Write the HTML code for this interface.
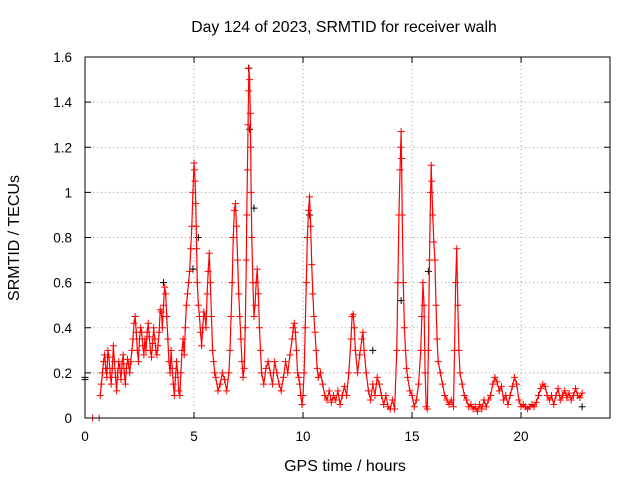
<!DOCTYPE html>
<html><head><meta charset="utf-8"><style>
body{margin:0;background:#fff;}
svg{display:block;font-family:"Liberation Sans",sans-serif;}
</style></head><body>
<svg id="chart" width="640" height="480" viewBox="0 0 640 480">
<text x="344" y="32" font-size="15.8" text-anchor="middle">Day 124 of 2023, SRMTID for receiver walh</text>
<text x="345" y="471" font-size="16" text-anchor="middle">GPS time / hours</text>
<text transform="translate(19,238) rotate(-90)" font-size="16" text-anchor="middle">SRMTID / TECUs</text>
<g id="grid"></g>
<g id="axes"></g>
<g id="black"></g>
<g id="red"></g>
<rect x="85" y="57" width="525" height="361" fill="none" stroke="#000" stroke-width="1"/>
</svg>
<script>
const xTicks=[0,5,10,15,20];
const yTicks=[0,0.2,0.4,0.6,0.8,1,1.2,1.4,1.6];
const yTickLabels=["0","0.2","0.4","0.6","0.8","1","1.2","1.4","1.6"];
const blackPoints=[[0,0.18],[0,0.17],[3.6,0.6],[4.95,0.66],[5.2,0.8],[7.5,1.55],[7.55,1.28],[7.75,0.93],[10.3,0.9],[13.2,0.3],[14.5,0.52],[15.75,0.65],[22.8,0.05]];
const redPoints=[[0.35,0],[0.65,0],[0.7,0.1],[0.75,0.15],[0.8,0.2],[0.85,0.25],[0.9,0.28],[0.95,0.22],[1.0,0.18],[1.05,0.3],[1.1,0.27],[1.15,0.2],[1.2,0.15],[1.25,0.22],[1.3,0.32],[1.35,0.25],[1.4,0.18],[1.45,0.12],[1.5,0.2],[1.55,0.25],[1.6,0.22],[1.65,0.17],[1.7,0.24],[1.75,0.28],[1.8,0.2],[1.85,0.15],[1.9,0.22],[1.95,0.26],[2.0,0.24],[2.05,0.2],[2.1,0.25],[2.15,0.3],[2.2,0.35],[2.25,0.42],[2.3,0.45],[2.35,0.38],[2.4,0.3],[2.45,0.25],[2.5,0.35],[2.55,0.4],[2.6,0.38],[2.65,0.32],[2.7,0.28],[2.75,0.35],[2.8,0.3],[2.85,0.38],[2.9,0.42],[2.95,0.36],[3.0,0.3],[3.05,0.27],[3.1,0.33],[3.15,0.4],[3.2,0.35],[3.25,0.3],[3.3,0.28],[3.35,0.32],[3.4,0.38],[3.45,0.48],[3.5,0.47],[3.55,0.4],[3.6,0.5],[3.65,0.58],[3.7,0.55],[3.75,0.45],[3.8,0.35],[3.85,0.25],[3.9,0.2],[3.95,0.3],[4.0,0.22],[4.05,0.15],[4.1,0.1],[4.15,0.18],[4.2,0.25],[4.25,0.2],[4.3,0.12],[4.35,0.1],[4.4,0.2],[4.45,0.3],[4.5,0.35],[4.55,0.28],[4.6,0.4],[4.65,0.5],[4.7,0.55],[4.75,0.6],[4.8,0.65],[4.85,0.75],[4.9,0.85],[4.95,1.0],[5.0,1.13],[5.02,1.1],[5.05,1.05],[5.08,0.95],[5.1,0.85],[5.12,0.75],[5.15,0.6],[5.2,0.5],[5.25,0.45],[5.3,0.38],[5.35,0.32],[5.4,0.4],[5.45,0.47],[5.5,0.45],[5.55,0.4],[5.6,0.55],[5.65,0.65],[5.7,0.73],[5.75,0.6],[5.8,0.45],[5.85,0.3],[5.9,0.25],[5.95,0.2],[6.0,0.18],[6.1,0.12],[6.2,0.15],[6.3,0.2],[6.4,0.17],[6.5,0.12],[6.6,0.2],[6.65,0.3],[6.7,0.45],[6.75,0.6],[6.8,0.8],[6.85,0.92],[6.9,0.95],[6.95,0.85],[7.0,0.7],[7.05,0.55],[7.1,0.45],[7.15,0.35],[7.2,0.25],[7.25,0.18],[7.3,0.22],[7.35,0.4],[7.4,0.7],[7.42,0.9],[7.45,1.1],[7.48,1.3],[7.5,1.45],[7.52,1.55],[7.55,1.5],[7.58,1.35],[7.6,1.2],[7.62,1.0],[7.65,0.8],[7.7,0.6],[7.75,0.45],[7.8,0.5],[7.85,0.6],[7.9,0.66],[7.95,0.55],[8.0,0.4],[8.05,0.3],[8.1,0.2],[8.2,0.15],[8.3,0.22],[8.4,0.25],[8.5,0.2],[8.6,0.15],[8.7,0.25],[8.8,0.2],[8.9,0.15],[9.0,0.12],[9.1,0.18],[9.2,0.25],[9.3,0.2],[9.4,0.28],[9.5,0.35],[9.55,0.4],[9.6,0.42],[9.65,0.38],[9.7,0.3],[9.75,0.2],[9.8,0.18],[9.85,0.15],[9.9,0.1],[9.95,0.06],[10.0,0.1],[10.05,0.2],[10.1,0.4],[10.15,0.6],[10.2,0.8],[10.25,0.92],[10.3,0.98],[10.35,0.85],[10.4,0.68],[10.45,0.55],[10.5,0.45],[10.55,0.38],[10.6,0.3],[10.65,0.22],[10.7,0.18],[10.8,0.2],[10.9,0.15],[11.0,0.1],[11.1,0.08],[11.2,0.12],[11.3,0.07],[11.4,0.1],[11.5,0.08],[11.6,0.12],[11.7,0.06],[11.8,0.1],[11.9,0.14],[12.0,0.1],[12.1,0.2],[12.2,0.35],[12.25,0.45],[12.3,0.46],[12.35,0.4],[12.4,0.3],[12.5,0.2],[12.6,0.28],[12.7,0.35],[12.75,0.38],[12.8,0.3],[12.9,0.2],[13.0,0.12],[13.1,0.08],[13.2,0.15],[13.3,0.1],[13.4,0.18],[13.5,0.15],[13.6,0.1],[13.7,0.06],[13.8,0.1],[13.9,0.05],[14.0,0.04],[14.1,0.08],[14.2,0.04],[14.3,0.3],[14.35,0.6],[14.4,0.9],[14.45,1.1],[14.48,1.2],[14.5,1.27],[14.52,1.15],[14.55,0.9],[14.6,0.6],[14.65,0.4],[14.7,0.3],[14.75,0.22],[14.8,0.18],[14.9,0.12],[15.0,0.1],[15.1,0.05],[15.2,0.08],[15.3,0.15],[15.4,0.3],[15.45,0.45],[15.5,0.6],[15.55,0.5],[15.6,0.2],[15.65,0.05],[15.7,0.04],[15.75,0.3],[15.8,0.7],[15.85,1.0],[15.88,1.12],[15.9,1.05],[15.95,0.9],[16.0,0.78],[16.05,0.7],[16.1,0.5],[16.15,0.35],[16.2,0.25],[16.3,0.2],[16.4,0.15],[16.5,0.1],[16.6,0.08],[16.7,0.06],[16.8,0.08],[16.9,0.05],[16.95,0.3],[17.0,0.6],[17.05,0.75],[17.1,0.5],[17.15,0.3],[17.2,0.2],[17.3,0.15],[17.4,0.1],[17.5,0.08],[17.6,0.05],[17.7,0.06],[17.8,0.04],[17.9,0.05],[18.0,0.03],[18.1,0.06],[18.2,0.04],[18.3,0.08],[18.4,0.05],[18.5,0.08],[18.6,0.1],[18.7,0.15],[18.8,0.18],[18.9,0.16],[19.0,0.12],[19.1,0.14],[19.2,0.08],[19.3,0.1],[19.4,0.06],[19.5,0.1],[19.6,0.14],[19.7,0.18],[19.8,0.15],[19.9,0.08],[20.0,0.05],[20.1,0.06],[20.2,0.05],[20.3,0.04],[20.4,0.05],[20.5,0.06],[20.6,0.05],[20.7,0.07],[20.8,0.1],[20.9,0.13],[21.0,0.15],[21.1,0.14],[21.2,0.1],[21.3,0.08],[21.4,0.1],[21.5,0.06],[21.6,0.1],[21.7,0.13],[21.8,0.08],[21.9,0.1],[22.0,0.12],[22.1,0.09],[22.2,0.11],[22.3,0.08],[22.4,0.1],[22.5,0.13],[22.6,0.1],[22.7,0.09],[22.8,0.11]];

const NS="http://www.w3.org/2000/svg";
const X0=85,X1=610,Y0=418,Y1=57,XMAX=24.08,YMAX=1.6;
function xs(t){return X0+(X1-X0)*t/XMAX;}
function ys(v){return Y0-(Y0-Y1)*v/YMAX;}
function mk(tag,attrs,parent){const e=document.createElementNS(NS,tag);for(const k in attrs)e.setAttribute(k,attrs[k]);parent.appendChild(e);return e;}
const grid=document.getElementById('grid'),axes=document.getElementById('axes');
xTicks.forEach((t,i)=>{
  const x=xs(t);
  if(i>0){const g=mk('line',{x1:x,y1:Y0,x2:x,y2:Y1,stroke:'#a0a0a0','stroke-dasharray':'1,3'},grid);
  
  }
  mk('line',{x1:x,y1:Y0,x2:x,y2:Y0-6,stroke:'#000'},axes);
  mk('line',{x1:x,y1:Y1,x2:x,y2:Y1+6,stroke:'#000'},axes);
  const tx=mk('text',{x:x,y:Y0+23,'font-size':'13.5','text-anchor':'middle'},axes);
  tx.textContent=String(t);
  
  
});
yTicks.forEach((v,i)=>{
  const y=ys(v);
  if(i>0&&i<yTicks.length-1){const g=mk('line',{x1:X0,y1:y,x2:X1,y2:y,stroke:'#a0a0a0','stroke-dasharray':'1,3'},grid);
  
  }
  mk('line',{x1:X0,y1:y,x2:X0+6,y2:y,stroke:'#000'},axes);
  mk('line',{x1:X1,y1:y,x2:X1-6,y2:y,stroke:'#000'},axes);
  const tx=mk('text',{x:72,y:y+5,'font-size':'13.5','text-anchor':'end'},axes);
  tx.textContent=yTickLabels[i];
  
  
});
function drawSeries(pts,color,gid,line){
  const g=document.getElementById(gid);
  if(line){const pl=mk('polyline',{points:pts.slice(2).map(p=>xs(p[0])+','+ys(p[1])).join(' '),fill:'none',stroke:color,'stroke-width':'1.2'},g);
  
  }
  pts.forEach(p=>{
    const x=xs(p[0]),y=ys(p[1]);
    const m=mk('path',{d:`M${x-3.5},${y}H${x+3.5}M${x},${y-3.5}V${y+3.5}`,stroke:color,'stroke-width':'1'},g);
    
    
  });
}
drawSeries(blackPoints,'#000','black',false);
drawSeries(redPoints,'#ff0000','red',true);
</script>
</body></html>
